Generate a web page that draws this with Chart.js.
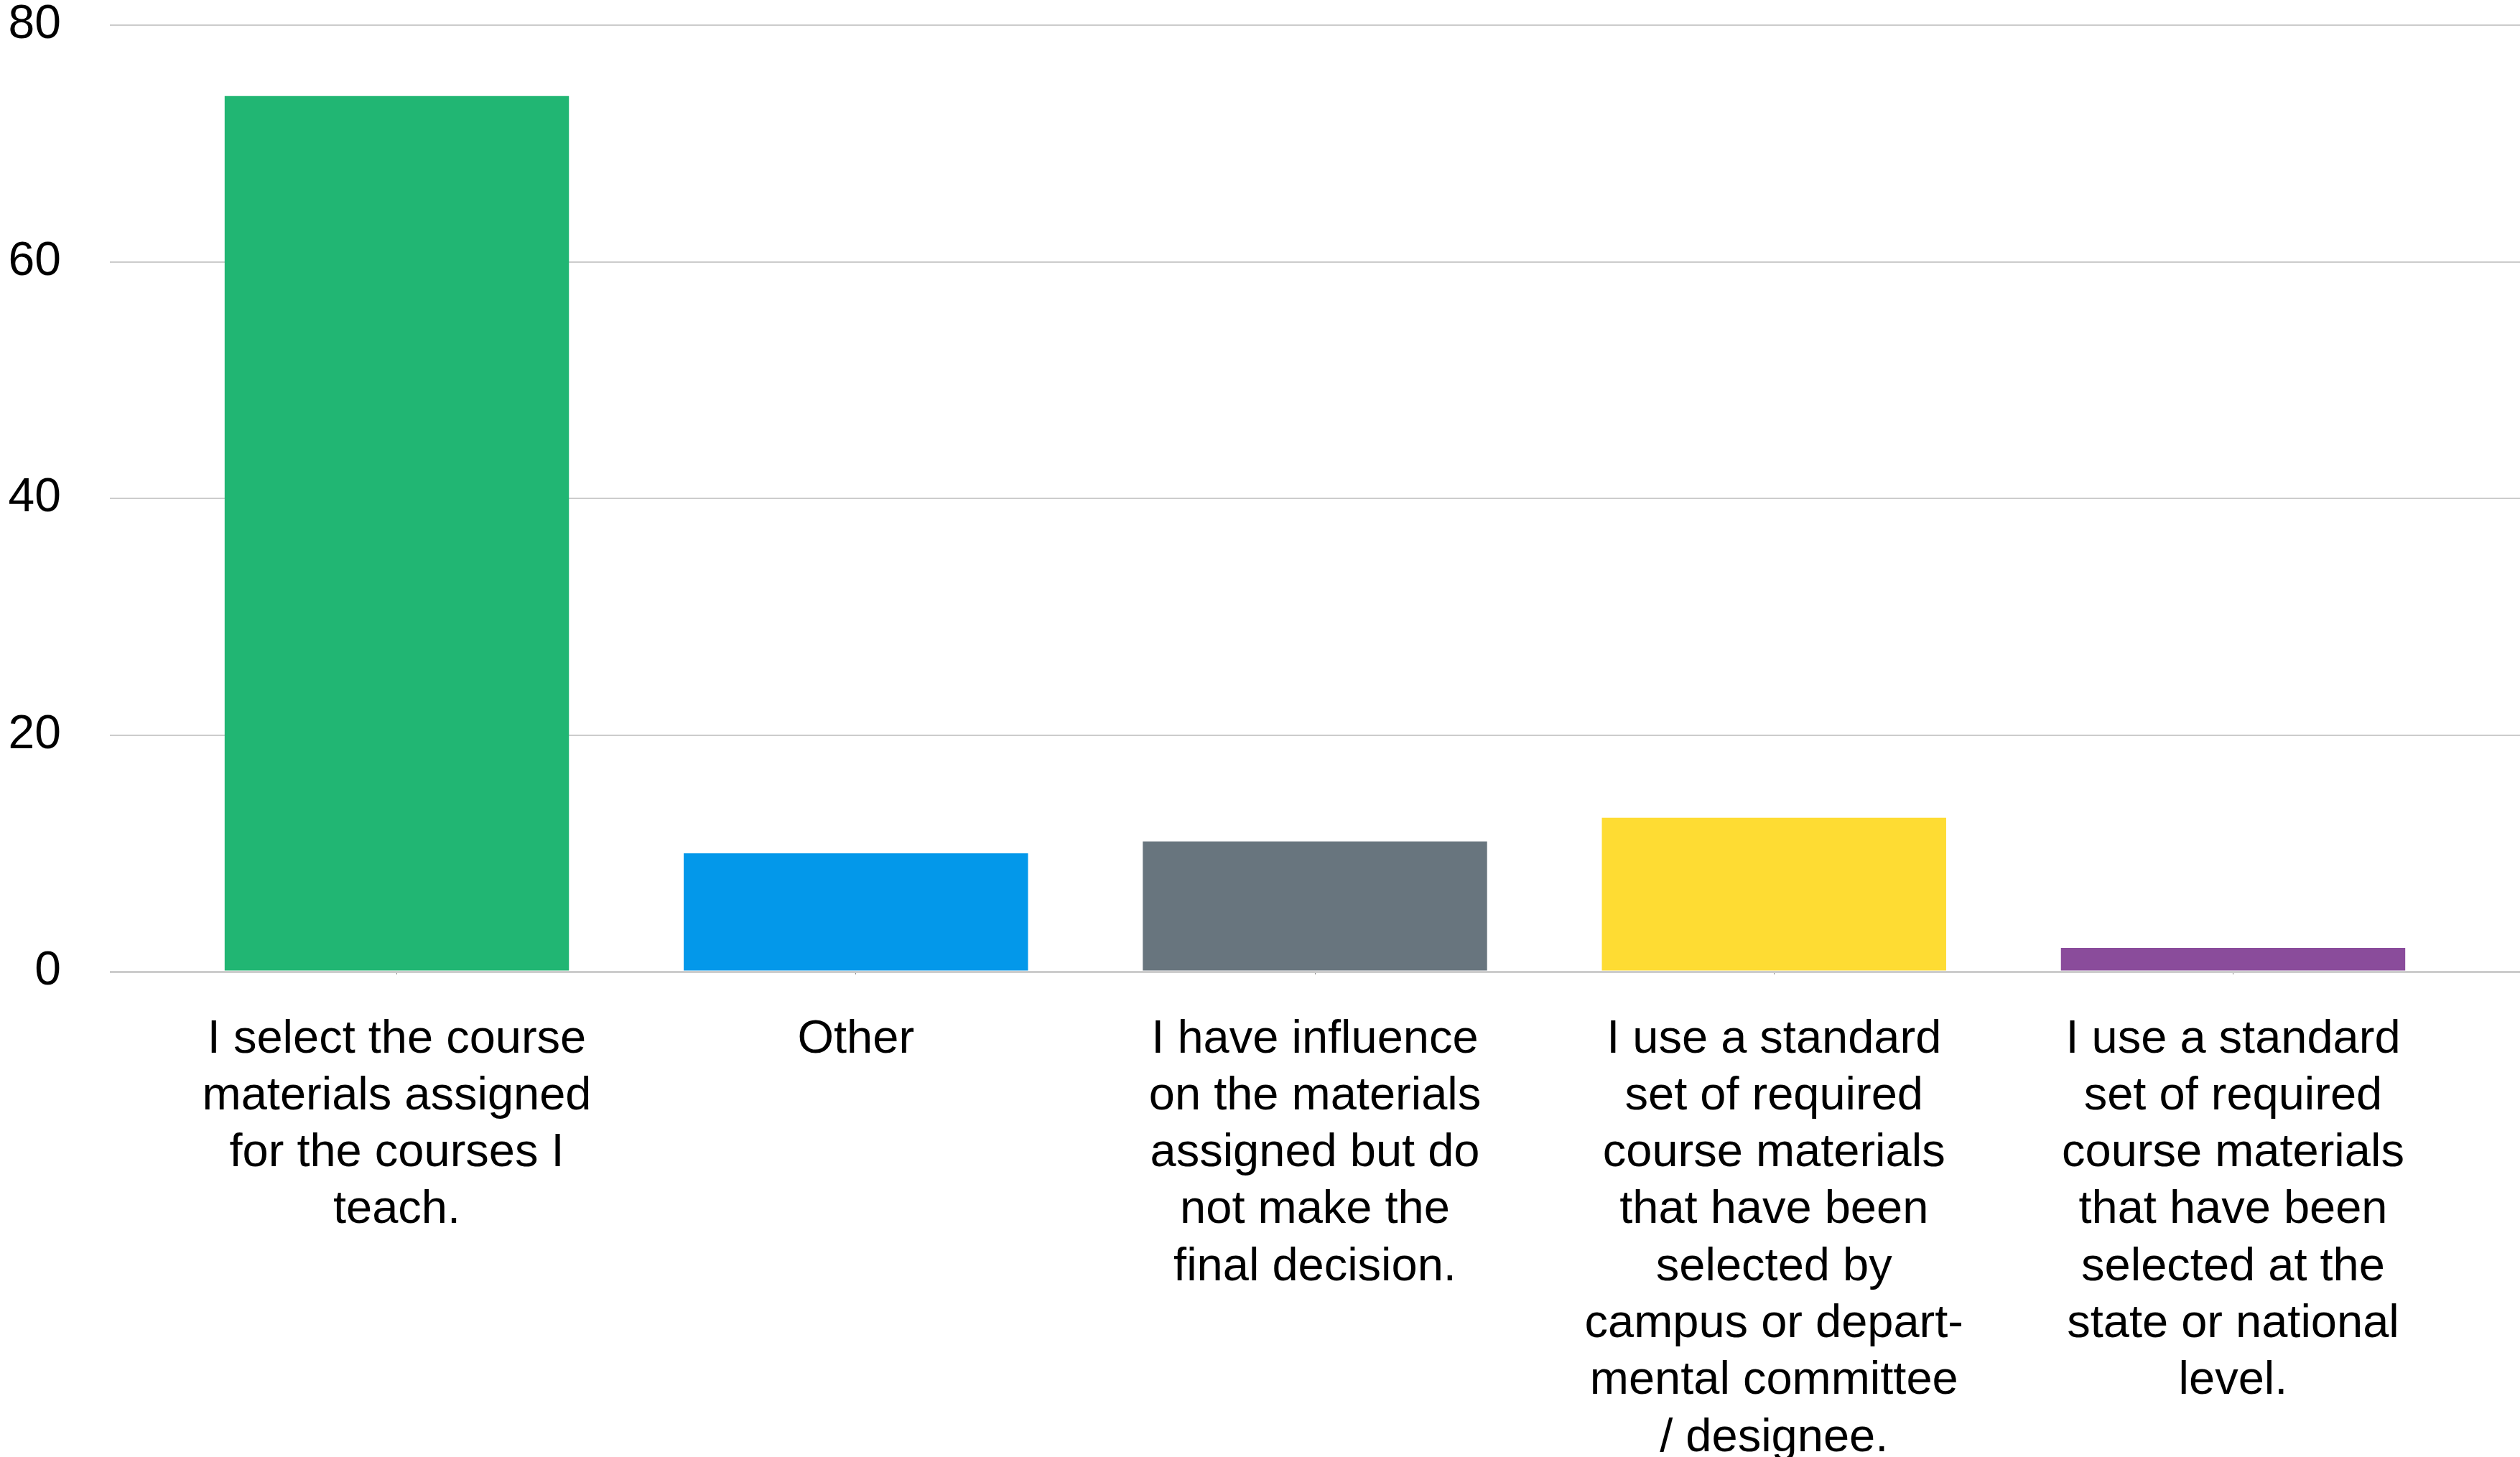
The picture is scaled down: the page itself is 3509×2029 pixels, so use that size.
<!DOCTYPE html>
<html>
<head>
<meta charset="utf-8">
<script src="https://cdn.jsdelivr.net/npm/chart.js@4/dist/chart.umd.min.js"></script>
<style>
  html, body { margin: 0; padding: 0; background: #fff; overflow: hidden; }
  #wrap { width: 3509px; height: 2029px; }
</style>
</head>
<body>
<div id="wrap"><canvas id="chart"></canvas></div>
<script>
var categories = [
    ["I select the course", "materials assigned", "for the courses I", "teach."],
    ["Other"],
    ["I have influence", "on the materials", "assigned but do", "not make the", "final decision."],
    ["I use a standard", "set of required", "course materials", "that have been", "selected by", "campus or depart-", "mental committee", "/ designee."],
    ["I use a standard", "set of required", "course materials", "that have been", "selected at the", "state or national", "level."]
];
var responses = [74, 10, 11, 13, 2];
var barColors = ["#21b673", "#0398ea", "#68757e", "#fedc33", "#8a4c9b"];
var yTicks = [0, 20, 40, 60, 80];

var fontFamily = "'Liberation Sans', Arial, sans-serif";

function buildChart() {
    var ctx = document.getElementById("chart");
    var config = {
        type: "bar",
        data: {
            datasets: [{
                data: responses.map(function (v, i) { return { x: i, y: v }; }),
                backgroundColor: barColors,
                borderWidth: 0,
                barPercentage: 1,
                categoryPercentage: 0.75
            }]
        },
        options: {
            responsive: true,
            maintainAspectRatio: false,
            animation: false,
            layout: { padding: 0 },
            plugins: {
                legend: { display: false },
                tooltip: { enabled: false }
            },
            scales: {
                x: {
                    type: "linear",
                    min: -0.625,
                    max: 4.625,
                    offset: false,
                    border: { display: false },
                    grid: {
                        offset: false,
                        drawOnChartArea: false,
                        drawTicks: true,
                        tickLength: 4,
                        color: "#888"
                    },
                    afterBuildTicks: function (scale) {
                        scale.ticks = categories.map(function (c, i) { return { value: i }; });
                    },
                    afterFit: function (scale) {
                        scale.height = 676;
                        scale.paddingLeft = 0;
                        scale.paddingRight = 0;
                    },
                    ticks: {
                        autoSkip: false,
                        maxRotation: 0,
                        minRotation: 0,
                        padding: 51,
                        color: "#000",
                        font: { family: fontFamily, size: 65, lineHeight: 1.22 },
                        callback: function (value) {
                            return categories[value];
                        }
                    }
                },
                y: {
                    min: 0,
                    max: 80,
                    border: { display: false },
                    afterBuildTicks: function (scale) {
                        scale.ticks = yTicks.map(function (v) { return { value: v }; });
                    },
                    afterFit: function (scale) {
                        scale.width = 153;
                        scale.paddingTop = 35;
                        scale.paddingBottom = 0;
                    },
                    grid: {
                        drawTicks: false,
                        color: "#cccccc",
                        lineWidth: function (c) { return c.tick && c.tick.value === 0 ? 3 : 2; }
                    },
                    ticks: {
                        padding: 68,
                        color: "#000",
                        font: { family: fontFamily, size: 66 }
                    }
                }
            }
        }
    };
    var chart = new Chart(ctx, config);
}

buildChart();
</script>
</body>
</html>
